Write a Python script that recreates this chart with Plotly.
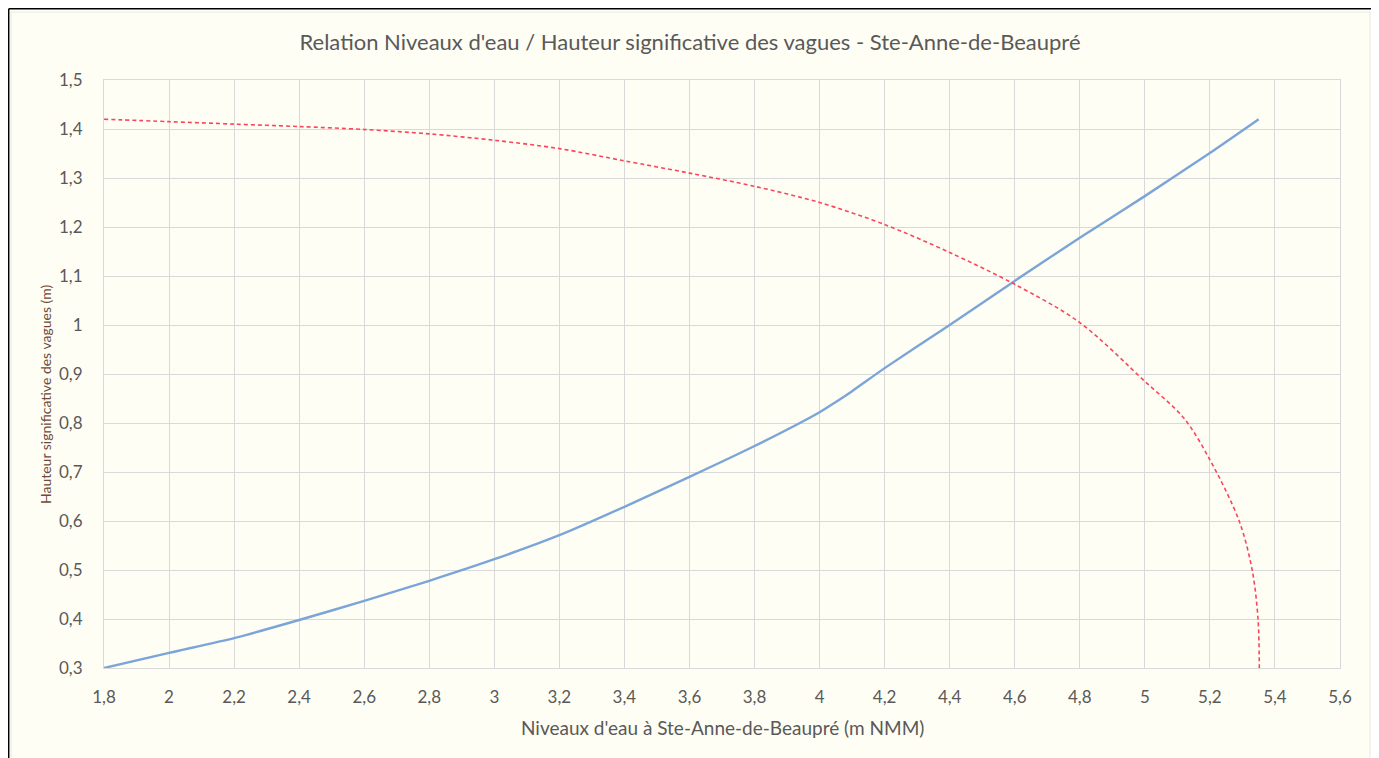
import plotly.graph_objects as go

# Data
blue_x = [1.8, 2.0, 2.2, 2.4, 2.6, 2.8, 3.0, 3.2, 3.4, 3.6, 3.8, 4.0, 4.05, 4.1, 4.2, 4.4, 4.6, 4.8, 5.0, 5.2, 5.35]
blue_y = [0.30, 0.331, 0.361, 0.398, 0.437, 0.478, 0.522, 0.571, 0.629, 0.690, 0.753, 0.822, 0.843, 0.865, 0.912, 1.0, 1.09, 1.178, 1.263, 1.351, 1.42]

red_x = [1.8, 2.0, 2.2, 2.4, 2.6, 2.8, 3.0, 3.2, 3.4, 3.6, 3.8, 4.0, 4.2, 4.4, 4.6, 4.8, 5.0, 5.12, 5.2, 5.29, 5.33, 5.348, 5.352]
red_y = [1.42, 1.415, 1.41, 1.405, 1.399, 1.39, 1.377, 1.36, 1.335, 1.31, 1.283, 1.25, 1.205, 1.148, 1.083, 1.005, 0.885, 0.81, 0.725, 0.60, 0.50, 0.40, 0.30]

title_text = "Relation Niveaux d'eau / Hauteur significative des vagues - Ste-Anne-de-Beaupré"
x_title = "Niveaux d'eau à Ste-Anne-de-Beaupré (m NMM)"
y_title = "Hauteur significative des vagues (m)"

FONT = "Lato"
GRAY = "#595959"
CREAM = "#FFFEF4"
GRID = "#D9D9D9"

fig = go.Figure()
fig.add_trace(go.Scatter(x=blue_x, y=blue_y, mode="lines",
                         line=dict(color="#7BA5D8", width=2.4, shape="spline", smoothing=0.6),
                         showlegend=False, hoverinfo="x+y"))
fig.add_trace(go.Scatter(x=red_x, y=red_y, mode="lines",
                         line=dict(color="#F9465C", width=1.6, dash="4px,3px", shape="spline", smoothing=0.9),
                         showlegend=False, hoverinfo="x+y"))

# page offset of 8px (body margin)
OFF = 8
W, H = 1371, 750
L, R, T, B = 96, 39, 72, 90
pw, ph = W - L - R, H - T - B

def px(xpage):
    return (xpage - OFF - L) / pw

def py(ypage):
    return (OFF + H - B - ypage) / ph

shapes = [
    dict(type="rect", xref="paper", yref="paper", x0=px(11), x1=px(1370), y0=py(775), y1=py(12),
         fillcolor=CREAM, line=dict(color="#E8E8E0", width=1), layer="below"),
    dict(type="line", xref="paper", yref="paper", x0=px(8.7), x1=px(8.7), y0=py(775), y1=py(8.7),
         line=dict(color="black", width=1.5)),
    dict(type="line", xref="paper", yref="paper", x0=px(8.7), x1=px(1373), y0=py(8.7), y1=py(8.7),
         line=dict(color="black", width=1.5)),
    dict(type="line", xref="paper", yref="paper", x0=px(1373), x1=px(1373), y0=py(775), y1=py(8.7),
         line=dict(color="black", width=1.5)),
]

fig.update_layout(
    width=W, height=H,
    margin=dict(l=L, r=R, t=T, b=B),
    paper_bgcolor="white",
    plot_bgcolor="rgba(0,0,0,0)",
    separators=", ",
    font=dict(family=FONT, color=GRAY, size=14),
    title=dict(text=title_text, x=(690 - OFF) / W, xanchor="center", xref="container",
               y=1 - (42 - OFF) / H, yanchor="middle", yref="container",
               font=dict(family=FONT, size=22, color=GRAY)),
    shapes=shapes,
    annotations=[
        dict(text=x_title, xref="paper", yref="paper", x=px(722), y=py(727),
             xanchor="center", yanchor="middle", showarrow=False,
             font=dict(family=FONT, size=19, color=GRAY)),
        dict(text=y_title, xref="paper", yref="paper", x=px(45), y=py(395),
             xanchor="center", yanchor="middle", showarrow=False, textangle=-90,
             font=dict(family=FONT, size=14, color="#6E4A3A")),
    ],
)
fig.update_xaxes(range=[1.8, 5.6], dtick=0.2, tick0=1.8, showgrid=True, gridcolor=GRID, gridwidth=1,
                 showline=True, linecolor=GRID, linewidth=1, mirror=True, zeroline=False,
                 ticks="", ticklabelstandoff=14, tickfont=dict(size=17, color=GRAY, family=FONT))
fig.update_yaxes(range=[0.3, 1.5], dtick=0.1, tick0=0.3, showgrid=True, gridcolor=GRID, gridwidth=1,
                 showline=True, linecolor=GRID, linewidth=1, mirror=True, zeroline=False,
                 ticks="", ticklabelstandoff=17, tickfont=dict(size=17, color=GRAY, family=FONT))

fig.write_html("out.html")
